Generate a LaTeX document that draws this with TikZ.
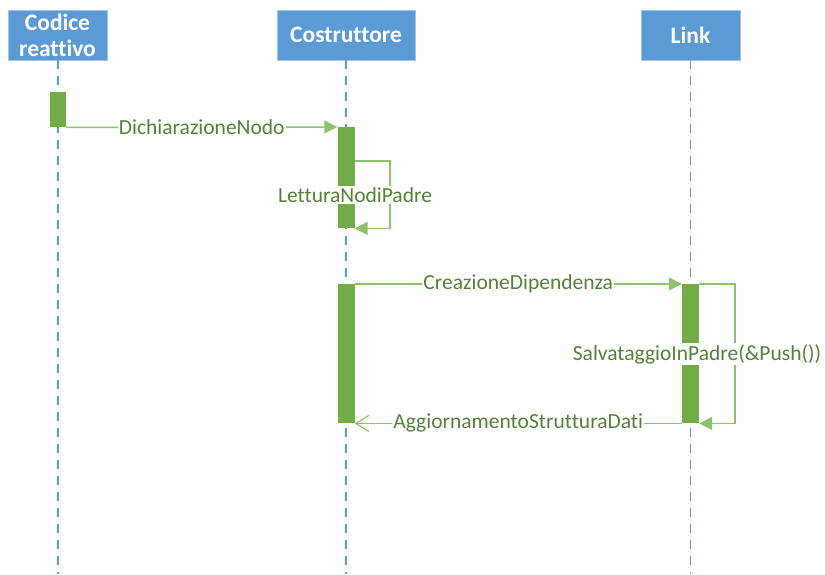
\documentclass[tikz,border=0pt]{standalone}
\usepackage{fontspec}
\setmainfont{Carlito}[Ligatures=NoCommon]
\usetikzlibrary{arrows.meta}
\definecolor{hdrblue}{HTML}{5B9BD5}
\definecolor{hdredge}{HTML}{9DC3E6}
\definecolor{actgreen}{HTML}{70AD47}
\definecolor{msggreen}{HTML}{8CC26A}
\definecolor{msgtext}{HTML}{548235}
\begin{document}
\begin{tikzpicture}[x=1pt,y=-1pt,
  header/.style={fill=hdrblue, draw=hdredge, line width=0.8pt, text=white,
    font=\bfseries\fontsize{23.5}{26}\selectfont, align=center,
    inner sep=0pt, minimum height=50pt},
  lifeline/.style={draw=hdrblue, line width=1.4pt, dash pattern=on 9pt off 7pt},
  actbar/.style={fill=actgreen, draw=none, minimum width=17pt, inner sep=0pt, anchor=north},
  msg/.style={draw=msggreen, line width=1.5pt},
  sync/.style={msg, -{Triangle[length=13pt,width=13pt]}},
  reply/.style={msg, -{Straight Barb[length=13pt,width=16pt,line width=1.2pt]}},
  lbl/.style={fill=white, text=msgtext, font=\fontsize{21.5}{24}\selectfont, inner sep=1pt}
]
\useasboundingbox (0,0) rectangle (825,574);

% lifeline heads
\node[header, minimum width=99pt]  (hc) at (57.5,35) {Codice\\reattivo};
\node[header, minimum width=138pt] (hb) at (346,35)  {Costruttore};
\node[header, minimum width=99pt]  (hl) at (690.5,35) {Link};

% lifelines
\coordinate (ec) at (58,574);
\coordinate (eb) at (346,574);
\coordinate (el) at (690.5,574);
\draw[lifeline] (hc.south -| ec) -- (ec);
\draw[lifeline] (hb.south) -- (eb);
\draw[lifeline] (hl.south) -- (el);

% activation bars
\node[actbar, minimum height=35pt, minimum width=16pt] (ac) at (58,92) {};
\node[actbar, minimum height=101pt] (ab1) at (346,127) {};
\node[actbar, minimum height=139pt] (ab2) at (346,284) {};
\node[actbar, minimum height=139pt] (al)  at (690.5,284) {};

% messages
\draw[sync] (ac.south east) -- node[lbl] {DichiarazioneNodo} (ab1.north west);

\coordinate (lt1) at (390,161);
\draw[sync] (ab1.east |- lt1) -- (lt1) |- (ab1.south east);
\node[lbl] (lnp) at (355,195) {LetturaNodiPadre};

\draw[sync] (ab2.north east) -- node[lbl, pos=0.5] {CreazioneDipendenza} (al.north west);

\coordinate (lt2) at (735,284);
\draw[sync] (al.north east) -- (lt2) |- (al.south east);
\node[lbl] (sip) at (697,354) {SalvataggioInPadre(\&Push())};

\draw[reply] (al.south west) -- node[lbl] {AggiornamentoStrutturaDati} (ab2.south east);
\end{tikzpicture}
\end{document}
